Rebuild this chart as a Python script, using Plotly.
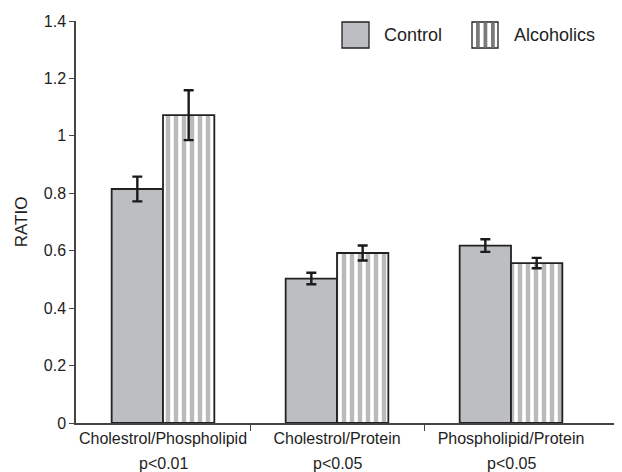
import plotly.graph_objects as go

categories = ["Cholestrol/Phospholipid", "Cholestrol/Protein", "Phospholipid/Protein"]
p_values = ["p&lt;0.01", "p&lt;0.05", "p&lt;0.05"]
control = [0.815, 0.503, 0.618]
control_err = [0.043, 0.02, 0.022]
alcoholics = [1.072, 0.592, 0.557]
alcoholics_err = [0.087, 0.026, 0.018]
y_ticks = [0, 0.2, 0.4, 0.6, 0.8, 1, 1.2, 1.4]

x = list(range(len(categories)))
FONT = "Liberation Sans, Arial, sans-serif"
DARK = "#222222"
TXT = "#1e1e1e"

# page body has an 8px offset; compensate
W, H = 614, 464
PL, PT, PB = 68, 13, 49
PW, PH = W - PL, H - PT - PB  # 546 x 402

def fx(ax):  # absolute screen x -> paper fraction
    return (ax - 76) / PW

def fy(ay):  # absolute screen y -> paper fraction
    return (423 - ay) / PH

fig = go.Figure()
fig.add_trace(go.Bar(
    x=x, y=control, name="Control",
    marker=dict(color="#bdbec2", line=dict(color=DARK, width=1.8)),
    error_y=dict(type="data", array=control_err, color="#1a1a1a", thickness=2.4, width=5),
))
fig.add_trace(go.Bar(
    x=x, y=alcoholics, name="Alcoholics",
    marker=dict(color="white", line=dict(color=DARK, width=1.8),
                pattern=dict(shape="|", fgcolor="#757575", bgcolor="white",
                             size=8, solidity=0.55, fillmode="overlay")),
    error_y=dict(type="data", array=alcoholics_err, color="#1a1a1a", thickness=2.4, width=5),
))

# p-value second line labels
for i, p in enumerate(p_values):
    fig.add_annotation(x=i, y=0, xref="x", yref="paper", text=p, showarrow=False,
                       yanchor="top", yshift=-30, font=dict(family=FONT, size=16, color=TXT))

# manual legend
fig.add_shape(type="rect", xref="paper", yref="paper",
              x0=fx(342), x1=fx(369), y0=fy(48), y1=fy(22),
              fillcolor="#bdbec2", line=dict(color=DARK, width=1.3))
fig.add_shape(type="rect", xref="paper", yref="paper",
              x0=fx(472), x1=fx(498), y0=fy(48), y1=fy(22),
              fillcolor="white", line=dict(color=DARK, width=1.3))
for s in [476, 483.5, 491]:
    fig.add_shape(type="rect", xref="paper", yref="paper",
                  x0=fx(s), x1=fx(s + 3.8), y0=fy(47.5), y1=fy(22.5),
                  fillcolor="#7a7a7a", line=dict(width=0))
fig.add_annotation(xref="paper", yref="paper", x=fx(382), y=fy(35.5),
                   text="Control", showarrow=False, xanchor="left", yanchor="middle",
                   font=dict(family=FONT, size=18, color=TXT))
fig.add_annotation(xref="paper", yref="paper", x=fx(512), y=fy(35.5),
                   text="Alcoholics", showarrow=False, xanchor="left", yanchor="middle",
                   font=dict(family=FONT, size=18, color=TXT))

unit = 174.0
span = PW / unit
fig.update_layout(
    width=W, height=H,
    margin=dict(l=PL, r=0, t=PT, b=PB),
    paper_bgcolor="white", plot_bgcolor="white",
    barmode="group", bargap=0.41, bargroupgap=0,
    showlegend=False,
    font=dict(family=FONT, size=16, color=TXT),
    xaxis=dict(
        range=[-0.5, -0.5 + span],
        tickvals=x, ticktext=categories, ticks="",
        showline=True, linecolor="#444", linewidth=1.5,
        showgrid=False, zeroline=False,
        tickfont=dict(family=FONT, size=16, color=TXT),
        minor=dict(tickvals=[0.5, 1.5], ticks="outside", ticklen=6, tickcolor="#444", tickwidth=1.3, showgrid=False),
    ),
    yaxis=dict(
        range=[0, 1.4], tickvals=y_ticks,
        ticktext=[("%g" % v) for v in y_ticks],
        ticks="outside", ticklen=5, tickcolor="#444", tickwidth=1.3,
        showline=True, linecolor="#444", linewidth=1.5,
        showgrid=False, zeroline=False,
        tickfont=dict(family=FONT, size=16, color=TXT),
        title=dict(text="RATIO", font=dict(family=FONT, size=17, color=TXT), standoff=12),
    ),
)

fig.write_html("out.html")
